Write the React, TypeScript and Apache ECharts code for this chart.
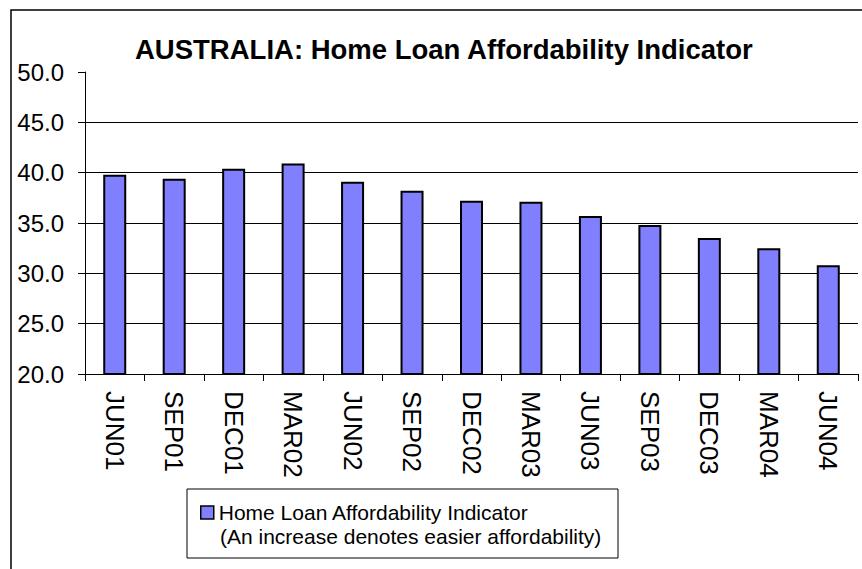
import React, { useEffect, useRef } from "react";
import * as echarts from "echarts";

const categories = ["JUN01", "SEP01", "DEC01", "MAR02", "JUN02", "SEP02", "DEC02", "MAR03", "JUN03", "SEP03", "DEC03", "MAR04", "JUN04"];
const values = [39.8, 39.4, 40.4, 40.9, 39.1, 38.2, 37.2, 37.1, 35.7, 34.8, 33.5, 32.5, 30.8];
const titleText = "AUSTRALIA: Home Loan Affordability Indicator";
const seriesName = "Home Loan Affordability Indicator";
const legendNote = "(An increase denotes easier affordability)";
const yMin = 20;
const yMax = 50;
const yStep = 5;

const FONT = '"Liberation Sans", Arial, Helvetica, sans-serif';

export default function App() {
  const ref = useRef<HTMLDivElement>(null);
  useEffect(() => {
    if (!ref.current) return;
    const chart = echarts.init(ref.current, null, { renderer: "svg" });
    chart.setOption({
      animation: false,
      backgroundColor: "#fff",
      title: {
        text: titleText,
        left: 135,
        top: 35,
        padding: 0,
        textStyle: { fontFamily: FONT, fontSize: 27.5, fontWeight: "bold", color: "#000" },
      },
      legend: {
        left: 200,
        top: 502,
        padding: 0,
        itemWidth: 13,
        itemHeight: 13,
        itemGap: 6,
        icon: "rect",
        itemStyle: { borderColor: "#000", borderWidth: 1.5 },
        textStyle: { fontFamily: FONT, fontSize: 21, color: "#000" },
        data: [seriesName],
      },
      grid: { left: 85, right: 4, top: 72, bottom: 195, containLabel: false },
      xAxis: {
        type: "category",
        data: categories,
        boundaryGap: true,
        axisLine: { lineStyle: { color: "#000", width: 1 } },
        axisTick: { show: true, length: 7, lineStyle: { color: "#000" } },
        axisLabel: { rotate: -90, fontFamily: FONT, fontSize: 26, color: "#000", margin: 17, interval: 0 },
      },
      yAxis: {
        type: "value",
        min: yMin,
        max: yMax,
        interval: yStep,
        axisLine: { show: true, lineStyle: { color: "#000", width: 1 } },
        axisTick: { show: true, length: 7, lineStyle: { color: "#000" } },
        axisLabel: {
          fontFamily: FONT,
          fontSize: 24,
          color: "#000",
          margin: 21,
          formatter: (v: number) => v.toFixed(1),
        },
        splitLine: { show: true, showMaxLine: false, lineStyle: { color: "#000", width: 1 } },
      },
      series: [
        {
          name: seriesName,
          type: "bar",
          data: values,
          barWidth: 23,
          itemStyle: { color: "#8080FF", borderColor: "#000", borderWidth: 2 },
        },
      ],
      graphic: [
        {
          type: "rect",
          shape: { x: 11, y: 10, width: 1000, height: 1000 },
          style: { fill: "none", stroke: "#000", lineWidth: 1.5 },
          silent: true,
        },
        {
          type: "rect",
          shape: { x: 187, y: 489, width: 431, height: 69 },
          style: { fill: "none", stroke: "#000", lineWidth: 1 },
          silent: true,
        },
        {
          type: "text",
          x: 220,
          y: 536,
          style: {
            text: legendNote,
            fontFamily: FONT,
            fontSize: 21,
            fill: "#000",
            verticalAlign: "middle",
            align: "left",
          },
          silent: true,
        },
      ],
    });
    return () => chart.dispose();
  }, []);
  return (
    <div
      ref={ref}
      style={{ position: "fixed", left: 0, top: 0, width: 862, height: 569 }}
    />
  );
}
